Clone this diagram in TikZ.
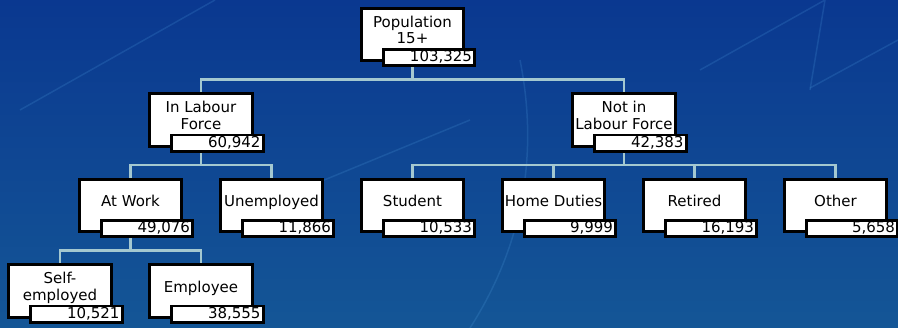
\documentclass[tikz,border=0pt]{standalone}
\usepackage{fontspec}
\setmainfont{DejaVu Sans}
\definecolor{bgtop}{RGB}{10,56,144}
\definecolor{bgbot}{RGB}{20,86,150}
\definecolor{linkc}{RGB}{164,200,208}
\definecolor{streak}{RGB}{80,160,225}
\tikzset{
  catbox/.style={rectangle, draw=black, fill=white, line width=2.6pt,
    minimum width=102.5pt, minimum height=52.5pt, inner sep=0pt,
    align=center, text depth=9pt, font=\fontsize{15}{16.5}\selectfont},
  numbox/.style={rectangle, draw=black, fill=white, line width=2.6pt,
    minimum width=91.5pt, minimum height=0pt, inner xsep=2.75pt, inner ysep=1.2pt,
    text width=86pt, align=right, text height=11pt, text depth=3pt,
    font=\fontsize{15}{16}\selectfont},
  streakline/.style={draw=streak, opacity=0.2, line width=1.5pt},
}
\begin{document}
\begin{tikzpicture}
      [level distance=85.5pt,
      every node/.style={catbox},
      level 1/.style={sibling distance=423pt},
      level 2/.style={sibling distance=141pt},
      level 3/.style={sibling distance=141pt},
      edge from parent/.style={draw=linkc, line width=2.4pt},
      edge from parent path={(\tikzparentnode.south) |- ([yshift=13pt]\tikzchildnode.north) -- (\tikzchildnode.north)},
      ]
      % background
      \shade[top color=bgtop, bottom color=bgbot] (0,0) rectangle (898pt,-328pt);
      \useasboundingbox (0,0) rectangle (898pt,-328pt);
      \draw[streakline] (20pt,-110pt) -- (215pt,0pt);
      \draw[streakline] (700pt,-70pt) -- (825pt,0pt) -- (810pt,-90pt);
      \draw[streakline] (810pt,-88pt) -- (898pt,-40pt);
      \draw[streakline] (470pt,-328pt) .. controls (520pt,-250pt) and (540pt,-160pt) .. (520pt,-60pt);
      \draw[streakline] (300pt,-190pt) -- (470pt,-120pt);
      \node (pop) at (412.5pt,-34.5pt) {Population\\15+}
        child {node (lab) {In Labour\\Force}
          child {node (work) {At Work}
            child {node (self) {Self-\\employed}}
            child {node (employee) {Employee}}}
          child {node (unemp) {Unemployed}}}
        child {node (nolab) {Not in\\Labour Force}
          child {node (student) {Student}}
          child {node (home) {Home Duties}}
          child {node (retired) {Retired}}
          child {node (other) {Other}}};
      % counts
      \foreach \who/\amount in {pop/{103,325}, lab/{60,942}, nolab/{42,383},
          work/{49,076}, unemp/{11,866}, student/{10,533}, home/{9,999},
          retired/{16,193}, other/{5,658}, self/{10,521}, employee/{38,555}}
        \node[numbox, anchor=south east] (\who-n) at ([xshift=11pt,yshift=-5pt]\who.south east) {\amount};
      \end{tikzpicture}
\end{document}
